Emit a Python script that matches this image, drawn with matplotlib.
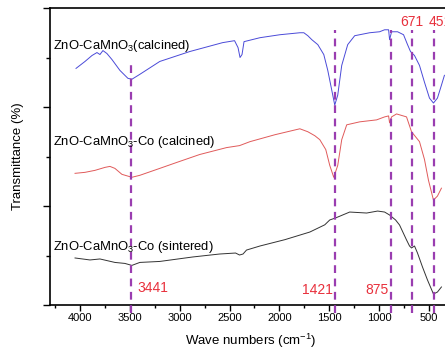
import matplotlib
matplotlib.use("Agg")
import matplotlib.pyplot as plt
from matplotlib.ticker import MultipleLocator

plt.rcParams['font.family'] = ['Liberation Sans', 'DejaVu Sans']
plt.rcParams['mathtext.fontset'] = 'custom'
plt.rcParams['mathtext.rm'] = 'Liberation Sans'
plt.rcParams['mathtext.it'] = 'Liberation Sans:italic'
plt.rcParams['mathtext.bf'] = 'Liberation Sans:bold'

# ---- data ----
wn_blue = [4040, 3950, 3880, 3830, 3800, 3770, 3730, 3680, 3600, 3520, 3480, 3400, 3200, 2900,
           2570, 2450, 2415, 2395, 2375, 2355, 2195, 1995, 1795, 1755, 1715, 1675, 1615, 1555,
           1515, 1475, 1445, 1415, 1375, 1315, 1245, 1095, 995, 945, 905, 895, 875, 815, 755,
           715, 685, 645, 595, 545, 495, 455, 415, 375, 345]
t_blue = [2.39, 2.46, 2.52, 2.55, 2.53, 2.57, 2.54, 2.48, 2.37, 2.29, 2.28, 2.33, 2.46, 2.56,
          2.65, 2.67, 2.60, 2.50, 2.53, 2.66, 2.70, 2.73, 2.75, 2.75, 2.72, 2.68, 2.63, 2.53,
          2.37, 2.17, 2.02, 2.12, 2.42, 2.63, 2.72, 2.75, 2.76, 2.78, 2.78, 2.68, 2.76, 2.76, 2.73,
          2.63, 2.56, 2.52, 2.42, 2.25, 2.09, 2.04, 2.09, 2.22, 2.32]

wn_red = [4050, 3950, 3850, 3750, 3700, 3650, 3580, 3480, 3400, 3200, 3030, 2800, 2530, 2400,
          2295, 2045, 1795, 1715, 1645, 1595, 1535, 1495, 1455, 1415, 1375, 1325, 1195, 1025,
          945, 905, 895, 875, 825, 725, 675, 635, 595, 545, 505, 455, 415, 375]
t_red = [1.33, 1.34, 1.36, 1.39, 1.40, 1.38, 1.32, 1.29, 1.31, 1.38, 1.44, 1.52, 1.59, 1.61,
         1.65, 1.72, 1.78, 1.75, 1.71, 1.67, 1.57, 1.41, 1.29, 1.41, 1.67, 1.82, 1.85, 1.87,
         1.90, 1.91, 1.84, 1.90, 1.93, 1.90, 1.75, 1.70, 1.65, 1.47, 1.26, 1.06, 1.10, 1.18]

wn_black = [4050, 3900, 3800, 3650, 3550, 3480, 3400, 3200, 2870, 2600, 2440, 2400, 2365, 2330,
            2195, 1945, 1695, 1545, 1495, 1435, 1295, 1125, 1015, 945, 895, 835, 795, 725,
            695, 675, 645, 615, 565, 515, 455, 415, 375]
t_black = [0.475, 0.455, 0.465, 0.43, 0.42, 0.40, 0.43, 0.44, 0.485, 0.515, 0.525, 0.505, 0.515, 0.555,
           0.596, 0.66, 0.737, 0.81, 0.859, 0.88, 0.939, 0.929, 0.949, 0.939, 0.909, 0.859, 0.808, 0.657,
           0.596, 0.576, 0.596, 0.525, 0.384, 0.253, 0.111, 0.131, 0.182]

line_pos = [3485, 1445, 885, 675, 445]
line_top = [2.44, 2.78, 2.78, 2.78, 2.78]
peak_labels = ['3441', '1421', '875', '671', '451']

series_labels = ['ZnO-CaMnO$_3$(calcined)', 'ZnO-CaMnO$_3$-Co (calcined)',
                 'ZnO-CaMnO$_3$-Co (sintered)']
xticks = [4000, 3500, 3000, 2500, 2000, 1500, 1000, 500]

# ---- figure ----
fig = plt.figure(figsize=(4.45, 3.5), dpi=100)
ax = fig.add_axes([50/445, 45/350, 401/445, 297/350])

ax.plot(wn_blue, t_blue, color='#4a4ad8', lw=0.7)
ax.plot(wn_red, t_red, color='#e05a5a', lw=0.7)
ax.plot(wn_black, t_black, color='#333333', lw=0.7)

for x, top in zip(line_pos, line_top):
    ax.plot([x, x], [-0.08, top], color='#9a3db0', lw=1.6, dashes=(3.5, 2.5),
            clip_on=False, zorder=3)

red = '#e8303c'
ax.text(line_pos[0] - 60, 0.17, peak_labels[0], color=red, fontsize=10, ha='left', va='center')
ax.text(line_pos[1] + 15, 0.15, peak_labels[1], color=red, fontsize=10, ha='right', va='center')
ax.text(line_pos[2] + 15, 0.15, peak_labels[2], color=red, fontsize=10, ha='right', va='center')
ax.text(line_pos[3], 2.86, peak_labels[3], color=red, fontsize=10, ha='center', va='center')
ax.text(line_pos[4] + 60, 2.86, peak_labels[4], color=red, fontsize=10, ha='left', va='center')

ax.text(4270, 2.62, series_labels[0], fontsize=9.4, ha='left', va='center')
ax.text(4270, 1.65, series_labels[1], fontsize=9.4, ha='left', va='center')
ax.text(4270, 0.59, series_labels[2], fontsize=9.4, ha='left', va='center')

ax.set_xlim(4301, 279)
ax.set_ylim(0, 3)
ax.set_xticks(xticks)
ax.set_xticklabels([str(t) for t in xticks], fontsize=8)
ax.xaxis.set_minor_locator(MultipleLocator(250))
ax.yaxis.set_major_locator(MultipleLocator(1))
ax.yaxis.set_minor_locator(MultipleLocator(0.5))
ax.set_yticklabels([])
ax.tick_params(axis='x', which='major', direction='out', length=4, width=1, pad=2)
ax.tick_params(axis='x', which='minor', direction='out', length=2.5, width=1)
ax.tick_params(axis='y', which='major', direction='out', length=5, width=1)
ax.tick_params(axis='y', which='minor', direction='out', length=3, width=1)
for s in ax.spines.values():
    s.set_linewidth(1.2)

ax.set_xlabel('Wave numbers (cm$^{-1}$)', fontsize=9.5, labelpad=6)
ax.set_ylabel('Transmittance (%)', fontsize=9.5, labelpad=10)

fig.savefig('out.png', dpi=100, facecolor='white')
